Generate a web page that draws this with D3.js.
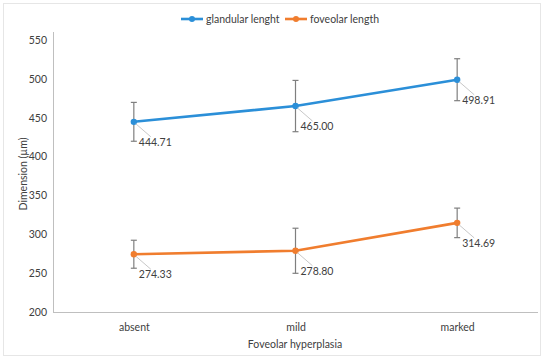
<!DOCTYPE html>
<html>
<head>
<meta charset="utf-8">
<script src="https://cdn.jsdelivr.net/npm/d3@7"></script>
<style>
  body { margin: 0; background: #fff; }
  text { font-family: Lato, "Open Sans", sans-serif; fill: #404040; }
</style>
</head>
<body>
<div class="chart"></div>
<script>
// data
const categories = ["absent", "mild", "marked"];
const glandular = [444.71, 465.00, 498.91];
const glandularErr = [25, 33, 27];
const foveolar = [274.33, 278.80, 314.69];
const foveolarErr = [18, 29, 19];
const yTicks = [200, 250, 300, 350, 400, 450, 500, 550];

const series = [
  {name: "glandular lenght", values: glandular, err: glandularErr, color: "#2b8fd8"},
  {name: "foveolar length", values: foveolar, err: foveolarErr, color: "#f07d2e"}
];

const W = 550, H = 361;
const svg = d3.select(".chart").append("svg")
    .attr("width", W)
    .attr("height", H);

// frame
svg.append("rect")
    .attr("x", 3.5).attr("y", 3.5)
    .attr("width", 537).attr("height", 352)
    .attr("fill", "none")
    .attr("stroke", "#e6e6e6");

const xScale = d3.scalePoint()
    .domain(categories)
    .range([53, 538])
    .padding(0.5);

const yScale = d3.scaleLinear()
    .domain([200, 550])
    .range([312, 40]);

// y axis
const yAxis = d3.axisLeft(yScale).tickValues(yTicks).tickSize(0).tickPadding(6);
const gy = svg.append("g")
    .attr("transform", "translate(53,0)")
    .call(yAxis);
gy.select(".domain").remove();
gy.selectAll("text").attr("font-size", 10.5).style("fill", "#404040")
    .style("font-family", "Lato, sans-serif");
svg.append("line")
    .attr("x1", 53.5).attr("x2", 53.5)
    .attr("y1", 32).attr("y2", 312)
    .attr("stroke", "#bfbfbf");

// x axis
const xAxis = d3.axisBottom(xScale).tickSize(0).tickPadding(12);
const gx = svg.append("g")
    .attr("transform", "translate(0,312)")
    .call(xAxis);
gx.select(".domain").remove();
gx.selectAll("text").attr("font-size", 10.5).style("fill", "#404040")
    .style("font-family", "Lato, sans-serif");
svg.append("line")
    .attr("x1", 53).attr("x2", 538)
    .attr("y1", 312.5).attr("y2", 312.5)
    .attr("stroke", "#bfbfbf");

// axis titles
svg.append("text")
    .attr("transform", "translate(27,174) rotate(-90)")
    .attr("text-anchor", "middle")
    .attr("font-size", 10.5)
    .text("Dimension (µm)");

svg.append("text")
    .attr("x", 295).attr("y", 348)
    .attr("text-anchor", "middle")
    .attr("font-size", 10.5)
    .text("Foveolar hyperplasia");

const line = d3.line()
    .x((d, i) => xScale(categories[i]))
    .y(d => yScale(d));

series.forEach(s => {
  const g = svg.append("g");
  // error bars
  s.values.forEach((v, i) => {
    const x = xScale(categories[i]);
    const y1 = yScale(v + s.err[i]), y2 = yScale(v - s.err[i]);
    g.append("line").attr("x1", x).attr("x2", x).attr("y1", y1).attr("y2", y2)
        .attr("stroke", "#7f7f7f").attr("stroke-width", 1.2);
    [y1, y2].forEach(yy => {
      g.append("line").attr("x1", x - 3).attr("x2", x + 3).attr("y1", yy).attr("y2", yy)
          .attr("stroke", "#7f7f7f").attr("stroke-width", 1.2);
    });
  });
  g.append("path")
      .datum(s.values)
      .attr("d", line)
      .attr("fill", "none")
      .attr("stroke", s.color)
      .attr("stroke-width", 2.6);
  g.selectAll("circle")
      .data(s.values)
      .join("circle")
      .attr("cx", (d, i) => xScale(categories[i]))
      .attr("cy", d => yScale(d))
      .attr("r", 3.2)
      .attr("fill", s.color);
  // data labels with leader lines
  s.values.forEach((v, i) => {
    const x = xScale(categories[i]), y = yScale(v);
    g.append("line")
        .attr("x1", x + 2).attr("y1", y + 2)
        .attr("x2", x + 17).attr("y2", y + 15)
        .attr("stroke", "#c8c8c8").attr("stroke-width", 1);
    g.append("text")
        .attr("x", x + 5).attr("y", y + 24)
        .attr("font-size", 10.5)
        .text(v.toFixed(2));
  });
});

// legend
const legend = svg.append("g");
const lx = [181, 285];
series.forEach((s, i) => {
  legend.append("line")
      .attr("x1", lx[i]).attr("x2", lx[i] + 22)
      .attr("y1", 19).attr("y2", 19)
      .attr("stroke", s.color).attr("stroke-width", 2.6);
  legend.append("circle")
      .attr("cx", lx[i] + 11).attr("cy", 19).attr("r", 3)
      .attr("fill", s.color);
  legend.append("text")
      .attr("x", lx[i] + 25).attr("y", 22.5)
      .attr("font-size", 10.5)
      .text(s.name);
});
</script>
</body>
</html>
